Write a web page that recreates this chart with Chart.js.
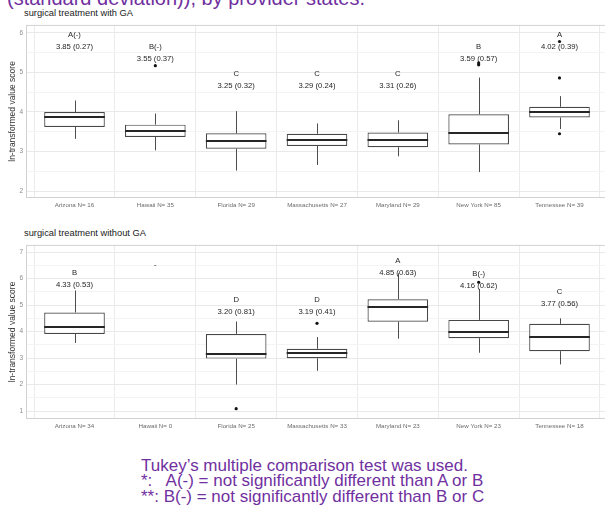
<!DOCTYPE html>
<html>
<head>
<meta charset="utf-8">
<script src="https://cdn.jsdelivr.net/npm/chart.js@4.4.1/dist/chart.umd.min.js"></script>
<style>
  html, body { margin: 0; padding: 0; background: #fff; overflow: hidden; width: 605px; height: 515px; }
  body { position: relative; font-family: "Liberation Sans", Arial, sans-serif; }
  .heading { position: absolute; left: 7px; top: -12px; font-size: 20px; line-height: 20px; color: #7030a0; white-space: nowrap; }
  .panel-title { position: absolute; left: 24px; font-size: 9.3px; line-height: 10px; color: #1a1a1a; white-space: nowrap; }
  .panel { position: absolute; left: 0; width: 612px; }
  .panel canvas { display: block; }
  .note { position: absolute; left: 141px; top: 458px; font-size: 17px; line-height: 15.3px; color: #7030a0; white-space: pre; }
</style>
</head>
<body>
<div class="heading">(standard deviation)), by provider states.</div>

<div class="panel-title" style="top:8px">surgical treatment with GA</div>
<div class="panel" style="top:18px;height:197px"><canvas id="withGA" width="612" height="197"></canvas></div>

<div class="panel-title" style="top:228px">surgical treatment without GA</div>
<div class="panel" style="top:238px;height:198px"><canvas id="withoutGA" width="612" height="198"></canvas></div>

<div class="note">Tukey’s multiple comparison test was used.
*:   A(-) = not significantly different than A or B
**: B(-) = not significantly different than B or C</div>

<script>
// Provider states (x categories)
const states = ['Arizona', 'Hawaii', 'Florida', 'Massachusetts', 'Maryland', 'New York', 'Tennessee'];

// ---- surgical treatment with GA ----
const gaN       = [16, 35, 29, 27, 29, 85, 39];
const gaLow     = [3.32, 3.03, 2.52, 2.66, 2.88, 2.48, 3.57];
const gaQ1      = [3.62, 3.37, 3.07, 3.14, 3.11, 3.18, 3.86];
const gaMedian  = [3.88, 3.51, 3.26, 3.30, 3.29, 3.48, 4.00];
const gaQ3      = [4.00, 3.68, 3.46, 3.45, 3.48, 3.94, 4.13];
const gaHigh    = [4.29, 3.96, 4.02, 3.71, 3.79, 4.87, 4.40];
const gaOutliers = [[], [5.17], [], [], [], [5.19, 5.24], [5.78, 4.86, 3.45]];
const gaMean    = [3.85, 3.55, 3.25, 3.29, 3.31, 3.59, 4.02];
const gaSD      = [0.27, 0.37, 0.32, 0.24, 0.26, 0.57, 0.39];
const gaGroup   = ['A(-)', 'B(-)', 'C', 'C', 'C', 'B', 'A'];
const gaLabelY  = [5.65, 5.35, 4.66, 4.66, 4.66, 5.35, 5.65];
const gaRange   = [1.826, 6.2];

// ---- surgical treatment without GA ----
const noGaN       = [34, 0, 25, 33, 23, 23, 18];
const noGaLow     = [3.57, null, 2.00, 2.52, 3.73, 3.20, 2.76];
const noGaQ1      = [3.91, null, 2.98, 2.99, 4.37, 3.75, 3.26];
const noGaMedian  = [4.18, null, 3.16, 3.18, 4.93, 3.98, 3.79];
const noGaQ3      = [4.72, null, 3.91, 3.35, 5.22, 4.44, 4.29];
const noGaHigh    = [5.55, null, 4.38, 3.79, 6.20, 5.61, 4.50];
const noGaOutliers = [[], [], [1.09], [4.31], [], [5.86], []];
const noGaMean    = [4.33, null, 3.20, 3.19, 4.85, 4.16, 3.77];
const noGaSD      = [0.53, null, 0.81, 0.41, 0.63, 0.62, 0.56];
const noGaGroup   = ['B', '-', 'D', 'D', 'A', 'B(-)', 'C'];
const noGaLabelY  = [5.75, 6.50, 4.75, 4.74, 6.23, 5.74, 5.04];
const noGaRange   = [0.70, 7.27];

const FONT = '"Liberation Sans", Arial, sans-serif';

// Whiskers, medians, panel border and the group / mean (sd) annotations
function boxplotParts(stats) {
  return {
    id: 'boxplotParts',
    beforeDatasetsDraw(chart) {
      const { ctx, chartArea: a } = chart;
      ctx.save();
      ctx.strokeStyle = '#d2d2d2';
      ctx.lineWidth = 1;
      ctx.strokeRect(a.left + 0.5, a.top + 0.5, a.right - a.left - 1, a.bottom - a.top - 1);
      ctx.restore();
    },
    afterDatasetsDraw(chart) {
      const { ctx } = chart;
      const xs = chart.scales.x, ys = chart.scales.y;
      const meta = chart.getDatasetMeta(0);
      const ds = chart.data.datasets[0];
      ctx.save();
      meta.data.forEach((bar, j) => {
        const i = ds.data[j].x - 1;
        const cx = Math.round(bar.x) + 0.5;
        // whiskers
        ctx.strokeStyle = '#4d4d4d';
        ctx.lineWidth = 1;
        ctx.beginPath();
        ctx.moveTo(cx, ys.getPixelForValue(stats.low[i]));
        ctx.lineTo(cx, ys.getPixelForValue(stats.q1[i]));
        ctx.moveTo(cx, ys.getPixelForValue(stats.q3[i]));
        ctx.lineTo(cx, ys.getPixelForValue(stats.high[i]));
        ctx.stroke();
        // median
        const my = Math.round(ys.getPixelForValue(stats.median[i]));
        ctx.strokeStyle = '#262626';
        ctx.lineWidth = 2;
        ctx.beginPath();
        ctx.moveTo(bar.x - bar.width / 2, my);
        ctx.lineTo(bar.x + bar.width / 2, my);
        ctx.stroke();
      });
      // annotations
      ctx.fillStyle = '#262626';
      ctx.font = '7.7px ' + FONT;
      ctx.textAlign = 'center';
      ctx.textBaseline = 'middle';
      states.forEach((s, i) => {
        const x = xs.getPixelForValue(i + 1);
        const y = ys.getPixelForValue(stats.labelY[i]);
        if (stats.mean[i] == null) {
          ctx.fillText(stats.group[i], x, y);
        } else {
          ctx.fillText(stats.group[i], x, y - 12);
          ctx.fillText(stats.mean[i].toFixed(2) + ' (' + stats.sd[i].toFixed(2) + ')', x, y);
        }
      });
      ctx.restore();
    }
  };
}

function makePanel(id, n, low, q1, median, q3, high, outliers, mean, sd, group, labelY, range) {
  const tickLabels = states.map((s, i) => s + ' N= ' + n[i]);
  const boxes = states.map((s, i) => q1[i] == null ? null : { x: i + 1, y: [q1[i], q3[i]] }).filter(Boolean);
  const points = [];
  outliers.forEach((list, i) => list.forEach(v => points.push({ x: i + 1, y: v })));

  return new Chart(document.getElementById(id), {
    type: 'bar',
    data: {
      datasets: [
        {
          type: 'bar',
          data: boxes,
          backgroundColor: '#ffffff',
          borderColor: '#474747',
          borderWidth: 1.2,
          borderSkipped: false,
          barPercentage: 0.75,
          categoryPercentage: 1,
          grouped: false,
          order: 2
        },
        {
          type: 'scatter',
          data: points,
          pointRadius: 1.6,
          pointBackgroundColor: '#111',
          pointBorderWidth: 0,
          order: 1
        }
      ]
    },
    options: {
      responsive: false,
      animation: false,
      events: [],
      layout: { padding: { top: 4, left: 0, right: 0, bottom: 0 } },
      plugins: { legend: { display: false }, tooltip: { enabled: false }, title: { display: false } },
      scales: {
        x: {
          type: 'linear',
          min: 0.4,
          max: 7.6,
          offset: false,
          afterFit(scale) { scale.height = 17; },
          border: { display: false },
          grid: { color: '#ebebeb', lineWidth: 1, drawTicks: false },
          ticks: {
            stepSize: 1,
            includeBounds: false,
            autoSkip: false,
            maxRotation: 0,
            padding: 4,
            color: '#6b6b6b',
            font: { family: FONT, size: 6.2 },
            callback: v => tickLabels[v - 1]
          }
        },
        y: {
          type: 'linear',
          min: range[0],
          max: range[1],
          afterFit(scale) { scale.width = 26; },
          border: { display: false },
          grid: {
            drawTicks: false,
            lineWidth: 1,
            color: c => Number.isInteger(c.tick.value) ? '#e9e9e9' : '#f4f4f4'
          },
          ticks: {
            stepSize: 0.5,
            includeBounds: false,
            padding: 3,
            color: '#8c8c8c',
            font: { family: FONT, size: 6.5 },
            callback: v => Number.isInteger(v) ? String(v) : ''
          },
          title: {
            display: true,
            text: 'ln-transformed value score',
            color: '#333',
            font: { family: FONT, size: 8.5 },
            padding: { top: 8, bottom: 0 }
          }
        }
      }
    },
    plugins: [boxplotParts({ low, q1, median, q3, high, mean, sd, group, labelY })]
  });
}

makePanel('withGA', gaN, gaLow, gaQ1, gaMedian, gaQ3, gaHigh, gaOutliers,
          gaMean, gaSD, gaGroup, gaLabelY, gaRange);
makePanel('withoutGA', noGaN, noGaLow, noGaQ1, noGaMedian, noGaQ3, noGaHigh, noGaOutliers,
          noGaMean, noGaSD, noGaGroup, noGaLabelY, noGaRange);
</script>
</body>
</html>
